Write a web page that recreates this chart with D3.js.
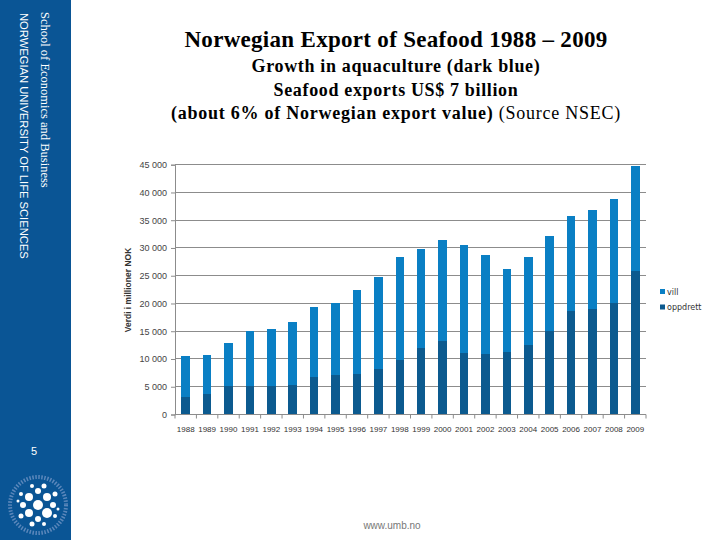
<!DOCTYPE html>
<html>
<head>
<meta charset="utf-8">
<script src="https://cdn.jsdelivr.net/npm/d3@7"></script>
<style>
  html, body { margin: 0; padding: 0; background: #fff; }
  svg { display: block; }
</style>
</head>
<body>
<svg id="chart" width="720" height="540"></svg>
<script>
// ---- data ----
const years = ["1988","1989","1990","1991","1992","1993","1994","1995","1996","1997","1998","1999","2000","2001","2002","2003","2004","2005","2006","2007","2008","2009"];
const oppdrett = [3200,3700,5100,5100,5100,5400,6800,7100,7300,8200,9800,12000,13200,11000,10900,11300,12500,15000,18600,19000,20000,25900];
const vill = [7300,7100,7800,9900,10300,11200,12600,13000,15100,16500,18500,17900,18300,19600,17800,15000,15800,17100,17100,17900,18900,18900];
const seriesNames = ["oppdrett","vill"];
const seriesLabels = ["vill","oppdrett"];
const yTicks = [0,5000,10000,15000,20000,25000,30000,35000,40000,45000];

const colors = { oppdrett: "#0c5a8f", vill: "#0a7fc4" };

const svg = d3.select("#chart");

// ---- sidebar ----
svg.append("rect").attr("x",0).attr("y",0).attr("width",71).attr("height",540).attr("fill","#0a5595");
svg.append("text")
  .attr("transform","translate(41,12) rotate(90)")
  .attr("font-family","Liberation Serif, Times New Roman, serif")
  .attr("font-size",12.5).attr("fill","#fff")
  .text("School of Economics and Business");
svg.append("text")
  .attr("transform","translate(20,13) rotate(90)")
  .attr("font-family","Liberation Sans, Arial, sans-serif")
  .attr("font-size",11.2).attr("fill","#fff")
  .text("NORWEGIAN UNIVERSITY OF LIFE SCIENCES");
svg.append("text").attr("x",34).attr("y",455).attr("text-anchor","middle")
  .attr("font-family","Liberation Sans, Arial, sans-serif").attr("font-size",11).attr("fill","#fff").text("5");

// logo
const logo = svg.append("g").attr("transform","translate(38,505)");
logo.append("circle").attr("r",28).attr("fill","none").attr("stroke","#6f93c4").attr("stroke-width",4).attr("stroke-dasharray","1.5 1.5").attr("opacity",0.8);
const dots = [[0,0,5],[-9,-8,4],[9,-8,4],[-9,8,4],[9,8,5],[0,-14,3],[0,14,3],[-15,0,3],[15,0,3],[-17,-11,2],[17,-11,2.5],[-17,11,2.5],[17,11,2],[-6,-19,2],[6,-19,2.5],[-6,19,2.5],[6,19,2],[-20,-4,1.5],[20,4,1.5]];
logo.selectAll("circle.d").data(dots).join("circle").attr("class","d")
  .attr("cx",d=>d[0]).attr("cy",d=>d[1]).attr("r",d=>d[2]).attr("fill","#fff");

// ---- titles ----
const serif = "Liberation Serif, Times New Roman, serif";
svg.append("text").attr("x",396).attr("y",47).attr("text-anchor","middle")
  .attr("font-family",serif).attr("font-size",23).attr("letter-spacing",0.3).attr("font-weight","bold").attr("fill","#000")
  .text("Norwegian Export of Seafood 1988 \u2013 2009");
svg.append("text").attr("x",396).attr("y",72).attr("text-anchor","middle")
  .attr("font-family",serif).attr("font-size",18).attr("letter-spacing",0.65).attr("font-weight","bold").attr("fill","#000")
  .text("Growth in aquaculture (dark blue)");
svg.append("text").attr("x",396).attr("y",95.5).attr("text-anchor","middle")
  .attr("font-family",serif).attr("font-size",18).attr("letter-spacing",0.65).attr("font-weight","bold").attr("fill","#000")
  .text("Seafood exports US$ 7 billion");
const t3 = svg.append("text").attr("x",396).attr("y",119).attr("text-anchor","middle")
  .attr("font-family",serif).attr("font-size",18).attr("letter-spacing",0.75).attr("fill","#000");
t3.append("tspan").attr("font-weight","bold").text("(about 6% of Norwegian export value)");
t3.append("tspan").text(" (Source NSEC)");

// ---- chart ----
const x0 = 175, x1 = 646, yTop = 164.7, yBot = 414.5;
const x = d3.scaleBand().domain(years).range([x0, x1]).paddingInner(0.6).paddingOuter(0.3);
const y = d3.scaleLinear().domain([0,45000]).range([yBot, yTop]);

// gridlines
svg.append("g").selectAll("line").data(yTicks.slice(1)).join("line")
  .attr("x1",x0).attr("x2",x1).attr("y1",d=>y(d)).attr("y2",d=>y(d))
  .attr("stroke","#8c8c8c").attr("stroke-width",1).attr("shape-rendering","crispEdges");

// stacked bars
const table = years.map((yr,i)=>({year:yr, oppdrett:oppdrett[i], vill:vill[i]}));
const stacked = d3.stack().keys(seriesNames)(table);
svg.append("g").selectAll("g").data(stacked).join("g")
  .attr("fill", d=>colors[d.key])
  .selectAll("rect").data(d=>d).join("rect")
  .attr("x", d=>x(d.data.year)).attr("width", x.bandwidth())
  .attr("y", d=>y(d[1])).attr("height", d=>y(d[0])-y(d[1]))
  .attr("shape-rendering","crispEdges");

// y axis
const yAxis = d3.axisLeft(y).tickValues(yTicks).tickSize(4).tickPadding(4)
  .tickFormat(d=>d3.format(",")(d).replace(",", " "));
const gy = svg.append("g").attr("transform",`translate(${x0},0)`).call(yAxis);
gy.select(".domain").attr("stroke","#8c8c8c");
gy.selectAll(".tick line").attr("stroke","#8c8c8c");
gy.selectAll("text").attr("font-family","Liberation Sans, Arial, sans-serif").attr("font-size",9).attr("fill","#444");

// x axis (ticks at band boundaries)
const gx = svg.append("g").attr("transform",`translate(0,${yBot})`);
gx.append("line").attr("x1",x0).attr("x2",x1).attr("y1",0).attr("y2",0).attr("stroke","#8c8c8c");
const bounds = d3.range(years.length+1).map(i=>x0 + (x1-x0)*i/years.length);
gx.selectAll("line.t").data(bounds).join("line").attr("class","t")
  .attr("x1",d=>d).attr("x2",d=>d).attr("y1",0).attr("y2",4).attr("stroke","#8c8c8c");
gx.selectAll("text").data(years).join("text")
  .attr("x",d=>x(d)+x.bandwidth()/2).attr("y",17).attr("text-anchor","middle")
  .attr("font-family","Liberation Sans, Arial, sans-serif").attr("font-size",8).attr("fill","#333")
  .text(d=>d);

// y axis title
svg.append("text").attr("transform","translate(131,290) rotate(-90)").attr("text-anchor","middle")
  .attr("font-family","Liberation Sans, Arial, sans-serif").attr("font-size",8.5).attr("font-weight","bold").attr("fill","#333")
  .text("Verdi i millioner NOK");

// legend
const leg = svg.append("g").attr("transform","translate(660,0)");
const legY = [291.5, 307];
leg.selectAll("rect").data(seriesLabels).join("rect")
  .attr("x",0).attr("y",(d,i)=>legY[i]-2.5).attr("width",5).attr("height",5)
  .attr("fill",d=>colors[d]);
leg.selectAll("text").data(seriesLabels).join("text")
  .attr("x",7).attr("y",(d,i)=>legY[i]+3)
  .attr("font-family","DejaVu Sans, sans-serif").attr("font-size",8).attr("fill","#333")
  .text(d=>d);

// footer
svg.append("text").attr("x",392).attr("y",529).attr("text-anchor","middle")
  .attr("font-family","Liberation Sans, Arial, sans-serif").attr("font-size",10).attr("fill","#777")
  .text("www.umb.no");
</script>
</body>
</html>
